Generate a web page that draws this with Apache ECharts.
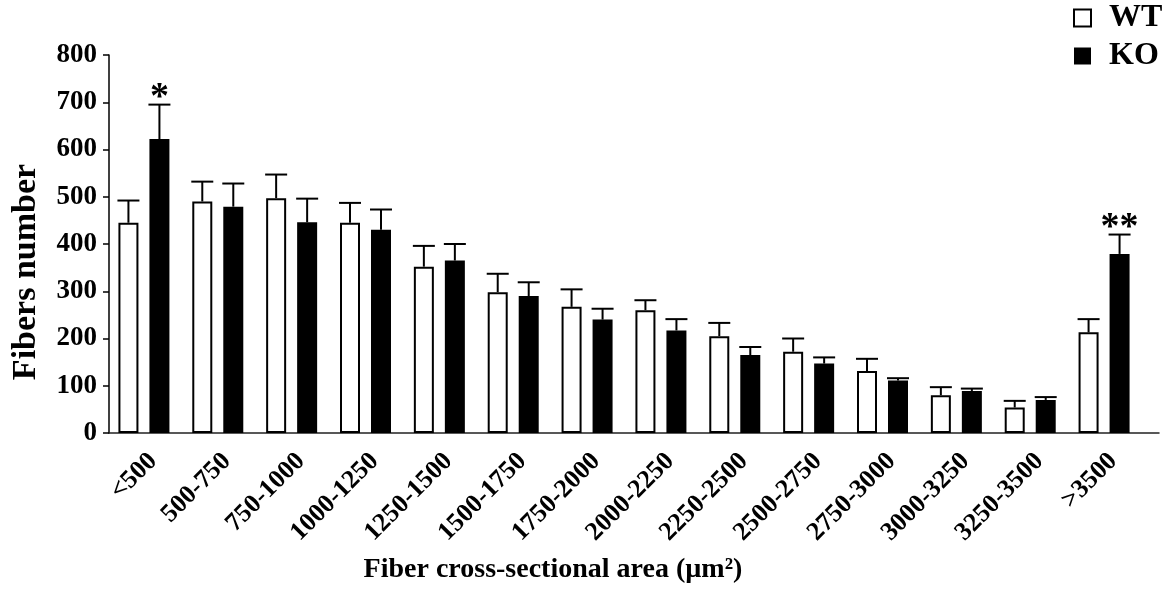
<!DOCTYPE html>
<html>
<head>
<meta charset="utf-8">
<script src="https://cdn.jsdelivr.net/npm/echarts@6/dist/echarts.min.js"></script>
<style>
  html, body { margin: 0; padding: 0; background: #fff; }
  #main { width: 1173px; height: 592px; }
</style>
</head>
<body>
<div id="main"></div>
<script>
// fiber size distribution
var categories = ['<500', '500-750', '750-1000', '1000-1250', '1250-1500', '1500-1750', '1750-2000',
  '2000-2250', '2250-2500', '2500-2750', '2750-3000', '3000-3250', '3250-3500', '>3500'];
var wtValues = [445, 490, 497, 445, 352, 298, 267, 260, 205, 172, 131, 80, 54, 213];
var wtErrors = [47, 42, 50, 42, 44, 39, 37, 21, 28, 28, 26, 17, 14, 28];
var koValues = [622, 479, 446, 430, 365, 290, 240, 217, 165, 147, 111, 89, 70, 379];
var koErrors = [73, 49, 50, 43, 35, 29, 23, 24, 17, 13, 5, 5, 6, 41];
var koMarks = ['*', '', '', '', '', '', '', '', '', '', '', '', '', '**'];
var yTicks = [0, 100, 200, 300, 400, 500, 600, 700, 800];

var FONT = 'Liberation Serif';
var BAR_W = 20;
var BAR_GAP = 0.55;

var chart = echarts.init(document.getElementById('main'));

// error bar (only upward) + significance mark
function errorSeries(name, values, errors, marks, side) {
  var data = values.map(function (v, i) { return [i, v, errors[i], marks ? marks[i] : '']; });
  return {
    name: name,
    type: 'custom',
    xAxisIndex: 1,
    yAxisIndex: 1,
    z: 5,
    data: data,
    renderItem: function (params, api) {
      var i = api.value(0);
      var v = api.value(1);
      var e = api.value(2);
      var off = side * BAR_W * (1 + BAR_GAP) / 2;
      var p0 = api.coord([i, v]);
      var p1 = api.coord([i, v + e]);
      var x = p0[0] + off;
      var children = [
        { type: 'line', shape: { x1: x, y1: p0[1], x2: x, y2: p1[1] }, style: { stroke: '#000', lineWidth: 2 } },
        { type: 'line', shape: { x1: x - 11, y1: p1[1], x2: x + 11, y2: p1[1] }, style: { stroke: '#000', lineWidth: 2 } }
      ];
      var mark = data[params.dataIndex][3];
      if (mark) {
        children.push({
          type: 'text',
          style: {
            text: mark, x: x, y: p1[1] + 13, align: 'center', verticalAlign: 'bottom',
            fill: '#000', font: 'bold 38px "' + FONT + '"'
          }
        });
      }
      return { type: 'group', children: children };
    }
  };
}

chart.setOption({
  animation: false,
  backgroundColor: '#fff',
  textStyle: { fontFamily: FONT },
  legend: {
    orient: 'vertical',
    left: 1068,
    top: -3,
    itemWidth: 17,
    itemHeight: 17,
    itemGap: 6,
    selectedMode: false,
    textStyle: { fontFamily: FONT, fontSize: 32, fontWeight: 'bold', color: '#000', padding: [0, 0, 0, 13] },
    data: [
      { name: 'WT', icon: 'rect', itemStyle: { color: '#fff', borderColor: '#000', borderWidth: 2 } },
      { name: 'KO', icon: 'rect', itemStyle: { color: '#000', borderColor: '#000', borderWidth: 0 } }
    ]
  },
  grid: [
    { left: 109, right: 14, top: 55, bottom: 159 },
    { left: 107, width: 1034, top: 55, bottom: 159 }
  ],
  xAxis: [
    {
      // only the long base line
      type: 'value', gridIndex: 0, min: 0, max: 1,
      axisLine: { show: true, lineStyle: { color: '#222', width: 1.5 } },
      axisTick: { show: false }, axisLabel: { show: false }, splitLine: { show: false }
    },
    {
      type: 'category', gridIndex: 1, data: categories,
      axisLine: { show: false }, axisTick: { show: false },
      axisLabel: {
        rotate: 45, interval: 0, margin: 15, color: '#000', verticalAlign: 'top',
        fontFamily: FONT, fontSize: 26, fontWeight: 'bold'
      },
      name: 'Fiber cross-sectional area (µm²)',
      nameLocation: 'middle',
      nameGap: 123,
      nameTextStyle: { fontFamily: FONT, fontSize: 28, fontWeight: 'bold', color: '#000', padding: [0, 142, 0, 0] }
    }
  ],
  yAxis: [
    {
      type: 'value', gridIndex: 0, min: yTicks[0], max: yTicks[yTicks.length - 1], interval: 100,
      axisLine: { show: true, lineStyle: { color: '#000', width: 1.5 } },
      axisTick: { show: true, length: 6, lineStyle: { color: '#000', width: 1.5 } },
      axisLabel: { margin: 12, color: '#000', fontFamily: FONT, fontSize: 27, fontWeight: 'bold' },
      splitLine: { show: false },
      name: 'Fibers number',
      nameLocation: 'middle',
      nameGap: 66,
      nameTextStyle: { fontFamily: FONT, fontSize: 34, fontWeight: 'bold', color: '#000', padding: [0, 56, 0, 0] }
    },
    { type: 'value', gridIndex: 1, min: 0, max: 800, show: false }
  ],
  series: [
    {
      name: 'WT', type: 'bar', xAxisIndex: 1, yAxisIndex: 1, data: wtValues,
      barWidth: BAR_W, barGap: (BAR_GAP * 100) + '%',
      itemStyle: { color: '#fff', borderColor: '#000', borderWidth: 2 }
    },
    {
      name: 'KO', type: 'bar', xAxisIndex: 1, yAxisIndex: 1, data: koValues,
      barWidth: BAR_W, barGap: (BAR_GAP * 100) + '%',
      itemStyle: { color: '#000', borderColor: '#000', borderWidth: 2 }
    },
    errorSeries('WT err', wtValues, wtErrors, null, -1),
    errorSeries('KO err', koValues, koErrors, koMarks, 1)
  ]
});
</script>
</body>
</html>
